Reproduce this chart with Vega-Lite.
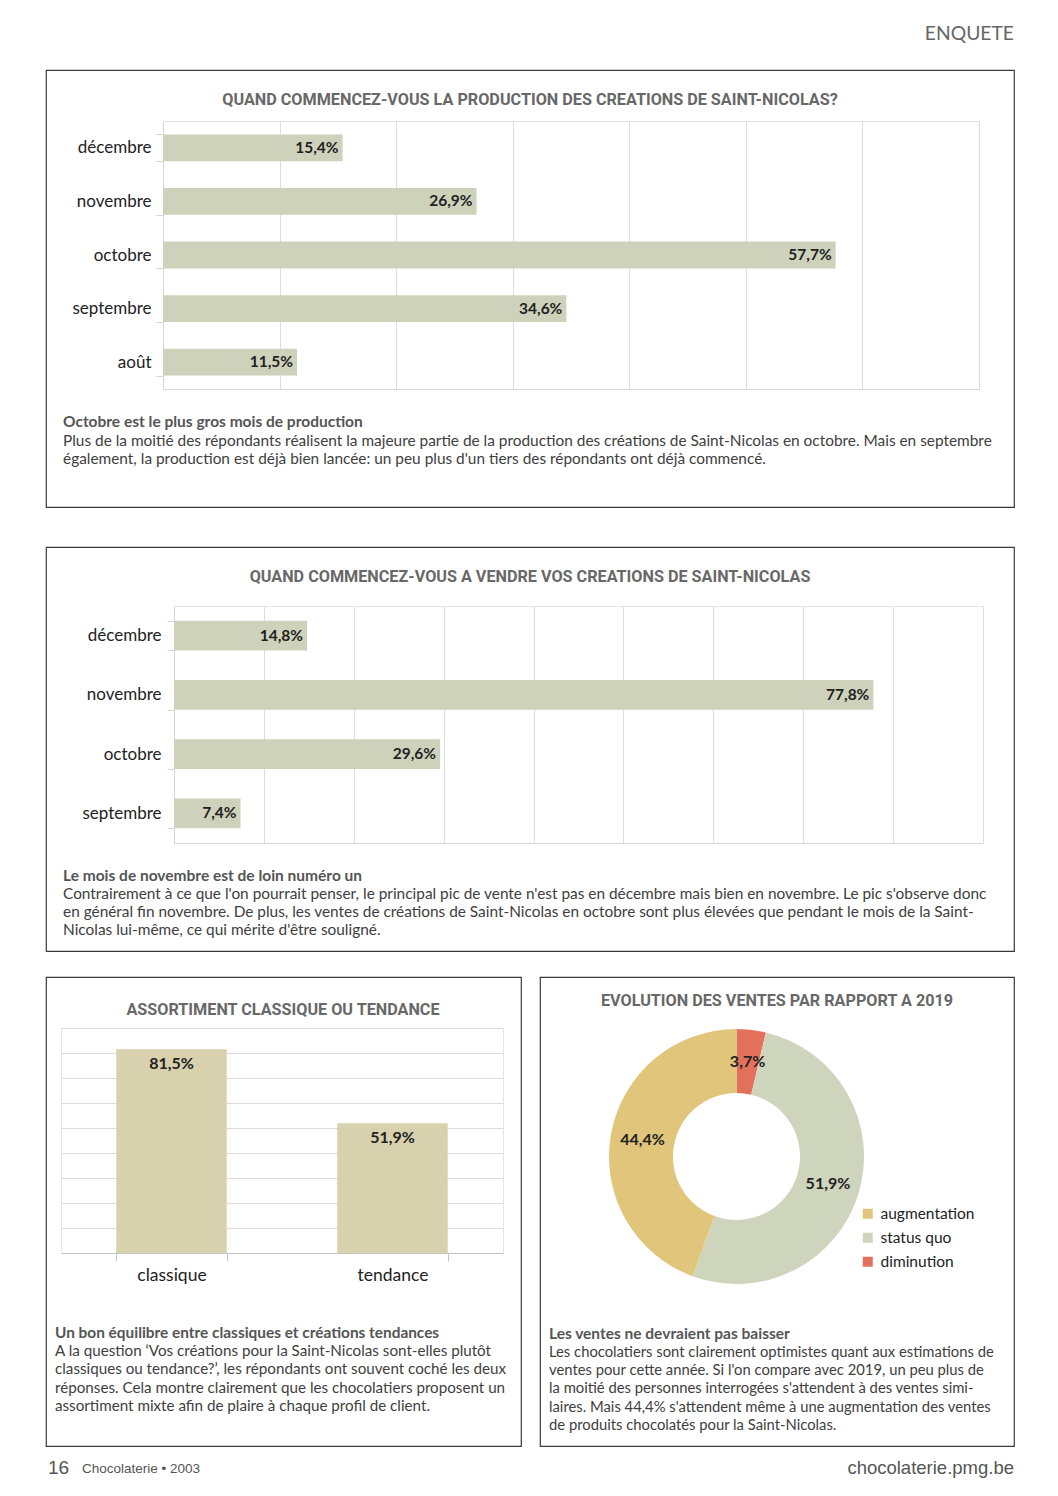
{
  "$schema": "https://vega.github.io/schema/vega-lite/v6.json",
  "background": "#ffffff",
  "padding": {"left": 45, "top": 20, "right": 0, "bottom": 0},
  "config": {
    "view": {"stroke": null},
    "font": "Lato",
    "locale": {"number": {"decimal": ",", "thousands": ".", "grouping": [3], "currency": ["", " €"]}},
    "axis": {"title": null}
  },
  "spacing": 10,
  "resolve": {"scale": {"color": "independent"}},
  "vconcat": [
    {
      "width": 968,
      "height": 30,
      "data": {"values": [{}]},
      "mark": {"type": "text", "text": "ENQUETE", "x": 968, "y": 14, "align": "right", "baseline": "middle", "fontSize": 19.3, "color": "#666666", "font": "Lato"}
    },
    {
      "spacing": 24,
      "resolve": {"scale": {"color": "independent"}},
      "vconcat": [
        {
          "spacing": 29,
          "vconcat": [
            {
              "width": 968,
              "height": 437,
              "view": {"stroke": "#3a3a3a", "strokeWidth": 1.2},
              "data": {"values": [
                {"mois": "décembre", "part": 0.154},
                {"mois": "novembre", "part": 0.269},
                {"mois": "octobre", "part": 0.577},
                {"mois": "septembre", "part": 0.346},
                {"mois": "août", "part": 0.115}
              ]},
              "layer": [
                {
                  "mark": {"type": "bar", "color": "#ced2bb"},
                  "encoding": {
                    "y": {"field": "mois", "type": "nominal", "sort": null,
                      "scale": {"range": [51, 319], "paddingInner": 0.5, "paddingOuter": 0.25},
                      "axis": {"orient": "left", "offset": -117, "domainColor": "#d6d6d6", "tickColor": "#d6d6d6", "tickBand": "extent", "tickSize": 7, "labelPadding": 5, "labelFontSize": 17, "labelColor": "#222222", "grid": false}},
                    "x": {"field": "part", "type": "quantitative",
                      "scale": {"domain": [0, 0.7], "range": [117, 933], "nice": false},
                      "axis": {"orient": "top", "offset": -51, "values": [0, 0.1, 0.2, 0.3, 0.4, 0.5, 0.6, 0.7], "labels": false, "ticks": false, "domainColor": "#e2e2e2", "grid": true, "gridColor": "#dddddd"}}
                  }
                },
                {
                  "mark": {"type": "text", "align": "right", "baseline": "middle", "dx": -4, "fontWeight": "bold", "fontSize": 15.5, "color": "#222222"},
                  "encoding": {
                    "y": {"field": "mois", "type": "nominal", "sort": null},
                    "x": {"field": "part", "type": "quantitative", "axis": {"orient": "bottom", "offset": -118, "labels": false, "ticks": false, "grid": false, "domainColor": "#d6d6d6"}},
                    "text": {"field": "part", "type": "quantitative", "format": ".1%"}
                  }
                },
                {
                  "data": {"values": [{}]},
                  "mark": {"type": "text", "text": "QUAND COMMENCEZ-VOUS LA PRODUCTION DES CREATIONS DE SAINT-NICOLAS?", "x": 484, "y": 30, "align": "center", "baseline": "middle", "font": "Roboto", "fontWeight": "bold", "fontSize": 16.2, "color": "#686868"}
                },
                {
                  "data": {"values": [{}]},
                  "mark": {"type": "text", "text": "Octobre est le plus gros mois de production", "x": 17, "y": 357, "align": "left", "baseline": "alphabetic", "fontWeight": "bold", "fontSize": 15.5, "color": "#555555"}
                },
                {
                  "data": {"values": [{}]},
                  "mark": {"type": "text", "text": ["Plus de la moitié des répondants réalisent la majeure partie de la production des créations de Saint-Nicolas en octobre. Mais en septembre", "également, la production est déjà bien lancée: un peu plus d'un tiers des répondants ont déjà commencé."], "x": 17, "y": 376, "lineHeight": 18, "align": "left", "baseline": "alphabetic", "fontSize": 15.4, "color": "#404040"}
                }
              ],
              "resolve": {"axis": {"x": "independent"}}
            },
            {
              "width": 968,
              "height": 404,
              "view": {"stroke": "#3a3a3a", "strokeWidth": 1.2},
              "data": {"values": [
                {"mois": "décembre", "part": 0.148},
                {"mois": "novembre", "part": 0.778},
                {"mois": "octobre", "part": 0.296},
                {"mois": "septembre", "part": 0.074}
              ]},
              "layer": [
                {
                  "mark": {"type": "bar", "color": "#ced2bb"},
                  "encoding": {
                    "y": {"field": "mois", "type": "nominal", "sort": null,
                      "scale": {"range": [59, 296], "paddingInner": 0.5, "paddingOuter": 0.25},
                      "axis": {"orient": "left", "offset": -128, "domainColor": "#d6d6d6", "tickColor": "#d6d6d6", "tickBand": "extent", "tickSize": 7, "labelPadding": 6, "labelFontSize": 17, "labelColor": "#222222", "grid": false}},
                    "x": {"field": "part", "type": "quantitative",
                      "scale": {"domain": [0, 0.9], "range": [128, 937], "nice": false},
                      "axis": {"orient": "top", "offset": -59, "values": [0, 0.1, 0.2, 0.3, 0.4, 0.5, 0.6, 0.7, 0.8, 0.9], "labels": false, "ticks": false, "domainColor": "#e2e2e2", "grid": true, "gridColor": "#dddddd"}}
                  }
                },
                {
                  "mark": {"type": "text", "align": "right", "baseline": "middle", "dx": -4, "fontWeight": "bold", "fontSize": 15.5, "color": "#222222"},
                  "encoding": {
                    "y": {"field": "mois", "type": "nominal", "sort": null},
                    "x": {"field": "part", "type": "quantitative", "axis": {"orient": "bottom", "offset": -108, "labels": false, "ticks": false, "grid": false, "domainColor": "#d6d6d6"}},
                    "text": {"field": "part", "type": "quantitative", "format": ".1%"}
                  }
                },
                {
                  "data": {"values": [{}]},
                  "mark": {"type": "text", "text": "QUAND COMMENCEZ-VOUS A VENDRE VOS CREATIONS DE SAINT-NICOLAS", "x": 484, "y": 30, "align": "center", "baseline": "middle", "font": "Roboto", "fontWeight": "bold", "fontSize": 16.2, "color": "#686868"}
                },
                {
                  "data": {"values": [{}]},
                  "mark": {"type": "text", "text": "Le mois de novembre est de loin numéro un", "x": 17, "y": 334, "align": "left", "baseline": "alphabetic", "fontWeight": "bold", "fontSize": 15.5, "color": "#555555"}
                },
                {
                  "data": {"values": [{}]},
                  "mark": {"type": "text", "text": ["Contrairement à ce que l'on pourrait penser, le principal pic de vente n'est pas en décembre mais bien en novembre. Le pic s'observe donc", "en général fin novembre. De plus, les ventes de créations de Saint-Nicolas en octobre sont plus élevées que pendant le mois de la Saint-", "Nicolas lui-même, ce qui mérite d'être souligné."], "x": 17, "y": 352, "lineHeight": 18, "align": "left", "baseline": "alphabetic", "fontSize": 15.4, "color": "#404040"}
                }
              ],
              "resolve": {"axis": {"x": "independent"}}
            }
          ]
        },
        {
          "spacing": 9,
          "resolve": {"scale": {"color": "independent"}},
          "vconcat": [
            {
              "spacing": 17,
              "resolve": {"scale": {"color": "independent"}},
              "hconcat": [
                {
                  "width": 475,
                  "height": 469,
                  "view": {"stroke": "#3a3a3a", "strokeWidth": 1.2},
                  "data": {"values": [
                    {"assortiment": "classique", "part": 0.815},
                    {"assortiment": "tendance", "part": 0.519}
                  ]},
                  "layer": [
                    {
                      "mark": {"type": "bar", "color": "#d7d1ae"},
                      "encoding": {
                        "x": {"field": "assortiment", "type": "nominal", "sort": null,
                          "scale": {"range": [15, 457], "paddingInner": 0.5, "paddingOuter": 0.25},
                          "axis": {"orient": "bottom", "offset": -193, "domainColor": "#c4c4c4", "tickColor": "#c4c4c4", "tickBand": "extent", "tickSize": 8, "labelPadding": 5, "labelFontSize": 17.5, "labelColor": "#222222", "labelAngle": 0, "grid": false}},
                        "y": {"field": "part", "type": "quantitative",
                          "scale": {"domain": [0, 0.9], "range": [276, 51], "nice": false},
                          "axis": {"orient": "left", "offset": -15, "values": [0, 0.1, 0.2, 0.3, 0.4, 0.5, 0.6, 0.7, 0.8, 0.9], "labels": false, "ticks": false, "domainColor": "#e4e4e4", "grid": true, "gridColor": "#dcdcdc"}}
                      }
                    },
                    {
                      "mark": {"type": "text", "baseline": "top", "dy": 7, "fontWeight": "bold", "fontSize": 16, "color": "#222222"},
                      "encoding": {
                        "x": {"field": "assortiment", "type": "nominal", "sort": null},
                        "y": {"field": "part", "type": "quantitative", "axis": {"orient": "right", "offset": -18, "labels": false, "ticks": false, "grid": false, "domainColor": "#e4e4e4"}},
                        "text": {"field": "part", "type": "quantitative", "format": ".1%"}
                      }
                    },
                    {
                      "data": {"values": [{}]},
                      "mark": {"type": "text", "text": "ASSORTIMENT CLASSIQUE OU TENDANCE", "x": 237, "y": 33, "align": "center", "baseline": "middle", "font": "Roboto", "fontWeight": "bold", "fontSize": 16.2, "color": "#686868"}
                    },
                    {
                      "data": {"values": [{}]},
                      "mark": {"type": "text", "text": "Un bon équilibre entre classiques et créations tendances", "x": 9, "y": 361, "align": "left", "baseline": "alphabetic", "fontWeight": "bold", "fontSize": 15.4, "color": "#555555"}
                    },
                    {
                      "data": {"values": [{}]},
                      "mark": {"type": "text", "text": ["A la question ‘Vos créations pour la Saint-Nicolas sont-elles plutôt", "classiques ou tendance?’, les répondants ont souvent coché les deux", "réponses. Cela montre clairement que les chocolatiers proposent un", "assortiment mixte afin de plaire à chaque profil de client."], "x": 9, "y": 379, "lineHeight": 18.3, "align": "left", "baseline": "alphabetic", "fontSize": 15.2, "color": "#404040"}
                    }
                  ],
                  "resolve": {"axis": {"y": "independent"}}
                },
                {
                  "width": 474,
                  "height": 469,
                  "view": {"stroke": "#3a3a3a", "strokeWidth": 1.2},
                  "data": {"values": [
                    {"evolution": "diminution", "part": 0.037, "ordre": 1},
                    {"evolution": "status quo", "part": 0.519, "ordre": 2},
                    {"evolution": "augmentation", "part": 0.444, "ordre": 3}
                  ]},
                  "layer": [
                    {
                      "mark": {"type": "arc", "x": 196.5, "y": 179.5, "radius": 127.5, "radius2": 63.5},
                      "encoding": {
                        "theta": {"field": "part", "type": "quantitative", "stack": true},
                        "order": {"field": "ordre", "type": "quantitative"},
                        "color": {"field": "evolution", "type": "nominal",
                          "scale": {"domain": ["augmentation", "status quo", "diminution"], "range": ["#e0c57a", "#cfd4bc", "#e3705b"]},
                          "legend": {"orient": "none", "legendX": 320, "legendY": 229, "title": null, "padding": 0, "symbolType": "square", "symbolSize": 100, "symbolStrokeWidth": 0, "labelFontSize": 15.5, "labelColor": "#222222", "rowPadding": 7, "labelOffset": 5}}
                      }
                    },
                    {
                      "mark": {"type": "text", "x": 196.5, "y": 179.5, "radius": 95.5, "baseline": "middle", "fontWeight": "bold", "fontSize": 16, "color": "#222222"},
                      "encoding": {
                        "theta": {"field": "part", "type": "quantitative", "stack": true},
                        "order": {"field": "ordre", "type": "quantitative"},
                        "text": {"field": "part", "type": "quantitative", "format": ".1%"}
                      }
                    },
                    {
                      "data": {"values": [{}]},
                      "mark": {"type": "text", "text": "EVOLUTION DES VENTES PAR RAPPORT A 2019", "x": 237, "y": 24, "align": "center", "baseline": "middle", "font": "Roboto", "fontWeight": "bold", "fontSize": 16.2, "color": "#686868"}
                    },
                    {
                      "data": {"values": [{}]},
                      "mark": {"type": "text", "text": "Les ventes ne devraient pas baisser", "x": 9, "y": 362, "align": "left", "baseline": "alphabetic", "fontWeight": "bold", "fontSize": 15.5, "color": "#555555"}
                    },
                    {
                      "data": {"values": [{}]},
                      "mark": {"type": "text", "text": ["Les chocolatiers sont clairement optimistes quant aux estimations de", "ventes pour cette année. Si l'on compare avec 2019, un peu plus de", "la moitié des personnes interrogées s'attendent à des ventes simi-", "laires. Mais 44,4% s'attendent même à une augmentation des ventes", "de produits chocolatés pour la Saint-Nicolas."], "x": 9, "y": 380, "lineHeight": 18.2, "align": "left", "baseline": "alphabetic", "fontSize": 14.8, "color": "#404040"}
                    }
                  ]
                }
              ]
            },
            {
              "width": 968,
              "height": 24,
              "data": {"values": [{}]},
              "layer": [
                {"mark": {"type": "text", "text": "16", "x": 2, "y": 12, "align": "left", "baseline": "middle", "font": "Liberation Sans", "fontSize": 19, "color": "#555555"}},
                {"mark": {"type": "text", "text": "Chocolaterie • 2003", "x": 36, "y": 13, "align": "left", "baseline": "middle", "font": "Liberation Sans", "fontSize": 13.5, "color": "#555555"}},
                {"mark": {"type": "text", "text": "chocolaterie.pmg.be", "x": 968, "y": 12, "align": "right", "baseline": "middle", "font": "Liberation Sans", "fontSize": 18.5, "color": "#555555"}}
              ]
            }
          ]
        }
      ]
    }
  ]
}
